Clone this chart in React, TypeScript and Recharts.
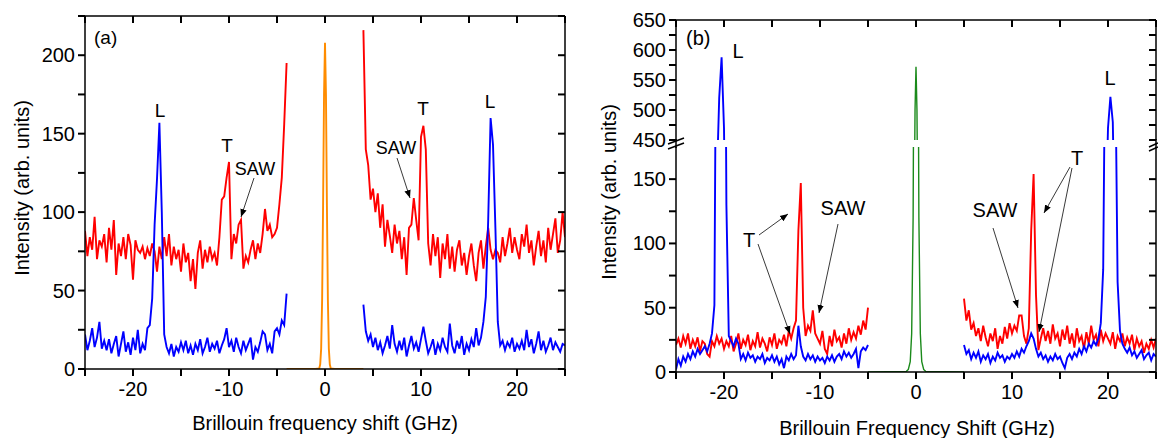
import React from 'react'
import { LineChart, Line, XAxis, YAxis } from 'recharts'

const FONT = 'Arial, "Liberation Sans", Helvetica, sans-serif'

// spectra are sampled on a 0.25 GHz grid
const STEP = 0.25
const A_LEFT_START = -25
const A_RIGHT_START = 4
const B_LEFT_START = -25
const B_RIGHT_START = 5

// panel (a)
const redALeft = [
  88, 72, 84, 76, 97, 70, 82, 78, 86, 68,
  90, 76, 95, 60, 80, 72, 84, 70, 86, 79,
  57, 82, 76, 74, 78, 70, 77, 72, 80, 75,
  62, 78, 70, 84, 72, 86, 66, 78, 70, 76,
  62, 80, 68, 74, 56, 70, 51, 74, 82, 64,
  76, 68, 78, 70, 74, 66, 84, 108, 110, 122,
  132, 70, 86, 80, 92, 95, 64, 72, 68, 76,
  82, 70, 80, 74, 86, 102, 88, 92, 84, 86,
  90, 105, 122, 156, 195,
]
const blueALeft = [
  22, 12, 18, 26, 14, 20, 30, 13, 18, 12,
  19, 10, 16, 21, 8, 16, 24, 11, 17, 9,
  20, 12, 25, 10, 16, 12, 26, 28, 45, 92,
  121, 157, 100, 22, 14, 10, 16, 8, 14, 11,
  17, 12, 18, 10, 15, 9, 16, 12, 19, 10,
  14, 20, 11, 16, 13, 18, 10, 15, 19, 26,
  14, 18, 11, 20, 14, 10, 18, 12, 16, 20,
  6, 14, 11, 17, 24, 22, 12, 16, 10, 24,
  26, 22, 31, 28, 48,
]
const redARight = [
  216, 140, 130, 108, 115, 100, 112, 90, 105, 78,
  95, 85, 74, 92, 80, 88, 70, 84, 60, 90,
  92, 109, 95, 82, 148, 155, 140, 80, 66, 86,
  72, 84, 58, 80, 70, 86, 64, 78, 62, 76,
  82, 66, 74, 60, 72, 80, 66, 56, 74, 82,
  64, 78, 90, 76, 70, 76, 74, 68, 84, 72,
  80, 90, 74, 84, 76, 70, 86, 78, 92, 74,
  82, 66, 78, 88, 72, 82, 68, 90, 76, 86,
  96, 74, 82, 100, 84,
]
const blueARight = [
  41, 24, 18, 22, 14, 20, 12, 17, 10, 15,
  21, 13, 28, 16, 11, 18, 12, 20, 8, 15,
  21, 13, 17, 11, 19, 27, 18, 10, 14, 19,
  9, 16, 12, 20, 14, 11, 29, 15, 10, 18,
  13, 21, 9, 16, 12, 19, 14, 26, 15, 20,
  30, 46, 95, 160, 143, 90, 30, 15, 18, 12,
  17, 14, 20, 11, 16, 13, 18, 12, 25, 14,
  19, 10, 16, 24, 12, 18, 11, 15, 20, 12,
  17, 14, 11, 16, 15,
]
const laserAShift = [-4, -1, -0.6, -0.5, -0.4, -0.3, -0.2, -0.1, 0, 0.1, 0.2, 0.3, 0.4, 0.5, 0.6, 1, 4]
const laserAValues = [0, 0, 0.4, 3, 13, 44, 104, 175, 208, 175, 104, 44, 13, 3, 0.4, 0, 0]

// panel (b)
const redBLeft = [
  21, 26, 19, 28, 22, 30, 18, 25, 20, 27,
  16, 24, 22, 14, 12, 24, 20, 28, 22, 26,
  18, 24, 20, 28, 16, 22, 30, 18, 25, 21,
  29, 17, 24, 20, 31, 19, 26, 22, 16, 27,
  21, 30, 18, 25, 22, 29, 20, 32, 26, 34,
  40, 110, 147, 50, 28, 36, 32, 48, 30, 26,
  22, 32, 18, 14, 28, 20, 33, 24, 27, 19,
  30, 22, 34, 25, 31, 26, 36, 29, 40, 33,
  50,
]
const blueBLeft = [
  2, 10, 5, 12, 8, 14, 10, 16, 12, 18,
  14, 17, 20, 16, 22, 30, 52, 380, 520, 588,
  470, 130, 28, 24, 20, 26, 22, 10, 14, 9,
  15, 11, 13, 8, 12, 10, 14, 7, 11, 9,
  13, 8, 12, 6, 10, 3, 12, 9, 14, 10,
  13, 36, 20, 12, 9, 14, 10, 13, 8, 12,
  9, 11, 7, 12, 9, 13, 8, 12, 14, 10,
  16, 12, 15, 11, 14, 18, 3, 16, 19, 17,
  21,
]
const redBRight = [
  57, 40, 48, 33, 38, 28, 34, 24, 36, 27,
  20, 30, 24, 34, 18, 28, 22, 35, 26, 38,
  30, 36, 32, 44, 44, 28, 22, 34, 110, 154,
  60, 17, 26, 34, 24, 32, 22, 37, 26, 30,
  20, 33, 25, 36, 22, 30, 19, 34, 24, 28,
  18, 31, 22, 36, 25, 29, 20, 33, 24, 30,
  26, 22, 31, 18, 28, 24, 30, 20, 27, 22,
  29, 17, 26, 20, 24, 15, 22, 18, 25, 19,
  26,
]
const blueBRight = [
  21, 14, 17, 10, 15, 11, 16, 8, 13, 10,
  14, 7, 12, 9, 15, 11, 13, 8, 12, 10,
  14, 11, 16, 12, 18, 15, 20, 24, 30, 26,
  18, 12, 15, 10, 13, 8, 12, 9, 14, 10,
  12, 7, 3, 11, 14, 10, 15, 12, 18, 14,
  20, 16, 22, 19, 24, 21, 26, 38, 80, 300,
  470, 522, 480, 250, 70, 32, 22, 18, 15, 19,
  13, 16, 11, 14, 17, 10, 13, 15, 9, 14,
  12,
]
const laserBShift = [-5, -1, -0.8, -0.6, -0.45, -0.3, -0.2, -0.1, 0, 0.1, 0.2, 0.3, 0.45, 0.6, 0.8, 1, 5]
const laserBValues = [0, 0.5, 2, 8, 30, 120, 300, 500, 572, 500, 300, 120, 30, 8, 2, 0.5, 0]

const X_DOMAIN: [number, number] = [-25, 25]
const X_TICKS = [-25, -20, -15, -10, -5, 0, 5, 10, 15, 20, 25]
const Y_DOMAIN_A: [number, number] = [0, 225]
const Y_TICKS_A = [0, 25, 50, 75, 100, 125, 150, 175, 200, 225]
const Y_DOMAIN_B_LOW: [number, number] = [0, 175]
const Y_TICKS_B_LOW = [0, 25, 50, 75, 100, 125, 150]
const Y_DOMAIN_B_HIGH: [number, number] = [450, 650]
const Y_TICKS_B_HIGH = [450, 475, 500, 525, 550, 575, 600, 625, 650]

type Pt = { x: number; y: number }
const onGrid = (start: number, vals: number[]): Pt[] => vals.map((y, i) => ({ x: start + i * STEP, y }))
const paired = (xs: number[], ys: number[]): Pt[] => xs.map((x, i) => ({ x, y: ys[i] }))

const RED = '#ff0000'
const BLUE = '#0000ff'
const ORANGE = '#ff8c00'
const GREEN = '#1b8a1b'
const LW = 1.9
const TICK = 7

// axis labels only every `step` units
const leftLabel = (step: number) => (props: any) => {
  const v = Number(props.payload.value)
  if (Math.abs(v % step) > 1e-6) return <g />
  return (
    <text x={Number(props.x) - 10} y={Number(props.y) + 7} textAnchor="end" fontFamily={FONT} fontSize={20} fill="#000">
      {v}
    </text>
  )
}
const bottomLabel = (step: number) => (props: any) => {
  const v = Number(props.payload.value)
  if (Math.abs(v % step) > 1e-6) return <g />
  return (
    <text x={Number(props.x)} y={Number(props.y) + 27} textAnchor="middle" fontFamily={FONT} fontSize={20} fill="#000">
      {v}
    </text>
  )
}

// plot boxes (page pixels) that the chart margins / axis sizes below produce
type Box = { l: number; r: number; t: number; b: number; y: [number, number] }
const BOX_A: Box = { l: 85, r: 565, t: 16, b: 369, y: Y_DOMAIN_A }
const BOX_B_HIGH: Box = { l: 676, r: 1156, t: 20, b: 140, y: Y_DOMAIN_B_HIGH }
const BOX_B_LOW: Box = { l: 676, r: 1156, t: 147, b: 372, y: Y_DOMAIN_B_LOW }

// tick stubs on the frame: left/bottom point outwards, top/right inwards
function FrameTicks({ box, yTicks, top, bottom }: { box: Box; yTicks: number[]; top: boolean; bottom: boolean }) {
  const sx = (v: number) => box.l + ((v - X_DOMAIN[0]) / (X_DOMAIN[1] - X_DOMAIN[0])) * (box.r - box.l)
  const sy = (v: number) => box.b - ((v - box.y[0]) / (box.y[1] - box.y[0])) * (box.b - box.t)
  return (
    <g stroke="#000" strokeWidth={2}>
      {X_TICKS.map((v) => (
        <g key={`x${v}`}>
          {bottom && <line x1={sx(v)} x2={sx(v)} y1={box.b} y2={box.b + TICK} />}
          {top && <line x1={sx(v)} x2={sx(v)} y1={box.t} y2={box.t + TICK} />}
        </g>
      ))}
      {yTicks.map((v) => (
        <g key={`y${v}`}>
          <line x1={box.l - TICK} x2={box.l} y1={sy(v)} y2={sy(v)} />
          <line x1={box.r - TICK} x2={box.r} y1={sy(v)} y2={sy(v)} />
        </g>
      ))}
    </g>
  )
}

const axisLine = { stroke: '#000', strokeWidth: 1.5 }
const common = { tickMargin: 0, tickSize: 0, interval: 0 as const, axisLine, tickLine: false, allowDataOverflow: true, type: 'number' as const }

export default function App() {
  return (
    <div style={{ position: 'absolute', left: 0, top: 0, width: 1158, height: 438, background: '#fff', overflow: 'hidden' }}>
      {/* panel (a) */}
      <div style={{ position: 'absolute', left: 0, top: 0 }}>
        <LineChart width={580} height={438} margin={{ top: 0, right: 0, bottom: 0, left: 0 }}>
          <XAxis xAxisId="b" dataKey="x" domain={X_DOMAIN} ticks={X_TICKS} height={69} {...common} tick={bottomLabel(10)} />
          <XAxis xAxisId="t" orientation="top" dataKey="x" domain={X_DOMAIN} ticks={X_TICKS} height={16} {...common} tick={false} />
          <YAxis yAxisId="l" domain={Y_DOMAIN_A} ticks={Y_TICKS_A} width={85} {...common} tick={leftLabel(50)} />
          <YAxis yAxisId="r" orientation="right" domain={Y_DOMAIN_A} ticks={Y_TICKS_A} width={15} {...common} tick={false} />
          <Line xAxisId="b" yAxisId="l" data={onGrid(A_LEFT_START, redALeft)} dataKey="y" stroke={RED} strokeWidth={LW} dot={false} isAnimationActive={false} type="linear" />
          <Line xAxisId="b" yAxisId="l" data={onGrid(A_RIGHT_START, redARight)} dataKey="y" stroke={RED} strokeWidth={LW} dot={false} isAnimationActive={false} type="linear" />
          <Line xAxisId="b" yAxisId="l" data={onGrid(A_LEFT_START, blueALeft)} dataKey="y" stroke={BLUE} strokeWidth={LW} dot={false} isAnimationActive={false} type="linear" />
          <Line xAxisId="b" yAxisId="l" data={onGrid(A_RIGHT_START, blueARight)} dataKey="y" stroke={BLUE} strokeWidth={LW} dot={false} isAnimationActive={false} type="linear" />
          <Line xAxisId="b" yAxisId="l" data={paired(laserAShift, laserAValues)} dataKey="y" stroke={ORANGE} strokeWidth={LW} dot={false} isAnimationActive={false} type="linear" />
        </LineChart>
      </div>

      {/* panel (b), upper part of the broken axis */}
      <div style={{ position: 'absolute', left: 580, top: 0 }}>
        <LineChart width={578} height={152} margin={{ top: 0, right: 0, bottom: 12, left: 0 }}>
          <XAxis xAxisId="t" orientation="top" dataKey="x" domain={X_DOMAIN} ticks={X_TICKS} height={20} {...common} tick={false} />
          <YAxis yAxisId="l" domain={Y_DOMAIN_B_HIGH} ticks={Y_TICKS_B_HIGH} width={96} {...common} tick={leftLabel(50)} />
          <YAxis yAxisId="r" orientation="right" domain={Y_DOMAIN_B_HIGH} ticks={Y_TICKS_B_HIGH} width={2} {...common} tick={false} />
          <Line xAxisId="t" yAxisId="l" data={onGrid(B_LEFT_START, blueBLeft)} dataKey="y" stroke={BLUE} strokeWidth={LW} dot={false} isAnimationActive={false} type="linear" />
          <Line xAxisId="t" yAxisId="l" data={onGrid(B_RIGHT_START, blueBRight)} dataKey="y" stroke={BLUE} strokeWidth={LW} dot={false} isAnimationActive={false} type="linear" />
          <Line xAxisId="t" yAxisId="l" data={paired(laserBShift, laserBValues)} dataKey="y" stroke={GREEN} strokeWidth={1.4} dot={false} isAnimationActive={false} type="linear" />
        </LineChart>
      </div>

      {/* panel (b), lower part */}
      <div style={{ position: 'absolute', left: 580, top: 147 }}>
        <LineChart width={578} height={291} margin={{ top: 0, right: 0, bottom: 0, left: 0 }}>
          <XAxis xAxisId="b" dataKey="x" domain={X_DOMAIN} ticks={X_TICKS} height={66} {...common} tick={bottomLabel(10)} />
          <YAxis yAxisId="l" domain={Y_DOMAIN_B_LOW} ticks={Y_TICKS_B_LOW} width={96} {...common} tick={leftLabel(50)} />
          <YAxis yAxisId="r" orientation="right" domain={Y_DOMAIN_B_LOW} ticks={Y_TICKS_B_LOW} width={2} {...common} tick={false} />
          <Line xAxisId="b" yAxisId="l" data={onGrid(B_LEFT_START, redBLeft)} dataKey="y" stroke={RED} strokeWidth={LW} dot={false} isAnimationActive={false} type="linear" />
          <Line xAxisId="b" yAxisId="l" data={onGrid(B_RIGHT_START, redBRight)} dataKey="y" stroke={RED} strokeWidth={LW} dot={false} isAnimationActive={false} type="linear" />
          <Line xAxisId="b" yAxisId="l" data={onGrid(B_LEFT_START, blueBLeft)} dataKey="y" stroke={BLUE} strokeWidth={LW} dot={false} isAnimationActive={false} type="linear" />
          <Line xAxisId="b" yAxisId="l" data={onGrid(B_RIGHT_START, blueBRight)} dataKey="y" stroke={BLUE} strokeWidth={LW} dot={false} isAnimationActive={false} type="linear" />
          <Line xAxisId="b" yAxisId="l" data={paired(laserBShift, laserBValues)} dataKey="y" stroke={GREEN} strokeWidth={1.4} dot={false} isAnimationActive={false} type="linear" />
        </LineChart>
      </div>

      {/* ticks, titles, annotations, axis break */}
      <svg width={1158} height={438} style={{ position: 'absolute', left: 0, top: 0, pointerEvents: 'none' }} fontFamily={FONT}>
        <defs>
          <marker id="ah" viewBox="0 0 10 10" refX="10" refY="5" markerWidth="8" markerHeight="8" orient="auto" markerUnits="userSpaceOnUse">
            <path d="M0,1 L10,5 L0,9 z" fill="#000" />
          </marker>
        </defs>
        <FrameTicks box={BOX_A} yTicks={Y_TICKS_A} top bottom />
        <FrameTicks box={BOX_B_HIGH} yTicks={Y_TICKS_B_HIGH} top bottom={false} />
        <FrameTicks box={BOX_B_LOW} yTicks={Y_TICKS_B_LOW} top={false} bottom />

        <text x={22} y={188} transform="rotate(-90 22 188)" textAnchor="middle" dominantBaseline="central" fontSize={20}>Intensity (arb. units)</text>
        <text x={325} y={430} textAnchor="middle" fontSize={20}>Brillouin frequency shift (GHz)</text>
        <text x={609} y={192} transform="rotate(-90 609 192)" textAnchor="middle" dominantBaseline="central" fontSize={20}>Intensity (arb. units)</text>
        <text x={917} y={435} textAnchor="middle" fontSize={20}>Brillouin Frequency Shift (GHz)</text>

        <g fontSize={19}>
          <text x={94} y={44}>(a)</text>
          <text x={160} y={117} textAnchor="middle">L</text>
          <text x={227} y={152} textAnchor="middle">T</text>
          <text x={255} y={175} textAnchor="middle" fontSize={18}>SAW</text>
          <text x={423} y={115} textAnchor="middle">T</text>
          <text x={490} y={108} textAnchor="middle">L</text>
          <text x={396} y={154} textAnchor="middle" fontSize={18}>SAW</text>
        </g>
        <g stroke="#222" strokeWidth={0.9}>
          <line x1={254} y1={178} x2={241} y2={217} markerEnd="url(#ah)" />
          <line x1={397} y1={158} x2={410} y2={198} markerEnd="url(#ah)" />
        </g>

        <g fontSize={20}>
          <text x={686} y={45}>(b)</text>
          <text x={738} y={58} textAnchor="middle">L</text>
          <text x={1110} y={85} textAnchor="middle">L</text>
          <text x={749} y={247} textAnchor="middle">T</text>
          <text x={843} y={215} textAnchor="middle">SAW</text>
          <text x={995} y={217} textAnchor="middle">SAW</text>
          <text x={1077} y={165} textAnchor="middle">T</text>
        </g>
        <g stroke="#222" strokeWidth={0.9}>
          <line x1={759} y1={235} x2={788} y2={214} markerEnd="url(#ah)" />
          <line x1={758} y1={244} x2={790} y2={334} markerEnd="url(#ah)" />
          <line x1={838} y1={224} x2={819} y2={313} markerEnd="url(#ah)" />
          <line x1={993} y1={228} x2={1018} y2={308} markerEnd="url(#ah)" />
          <line x1={1070} y1={167} x2={1044} y2={213} markerEnd="url(#ah)" />
          <line x1={1072} y1={168} x2={1039} y2={332} markerEnd="url(#ah)" />
        </g>

        <g stroke="#000" strokeWidth={1.5}>
          <line x1={676} y1={139} x2={676} y2={148} />
          <line x1={1156} y1={139} x2={1156} y2={148} />
          <line x1={668} y1={144} x2={684} y2={138} />
          <line x1={668} y1={149} x2={684} y2={143} />
          <line x1={1149} y1={147} x2={1158} y2={143} />
          <line x1={1149} y1={151} x2={1158} y2={147} />
        </g>
      </svg>
    </div>
  )
}
